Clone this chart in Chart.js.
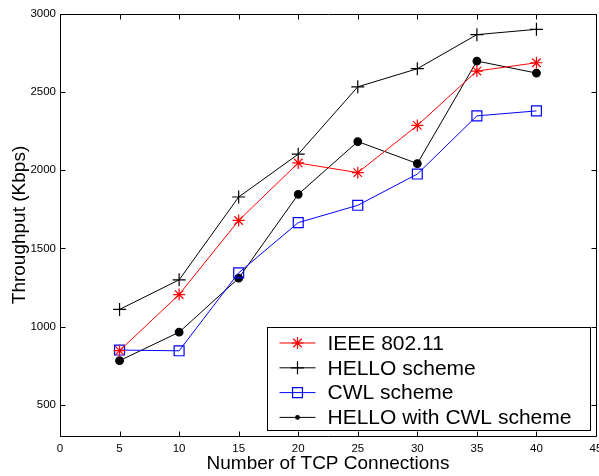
<!DOCTYPE html>
<html>
<head>
<meta charset="utf-8">
<title>Throughput vs TCP connections</title>
<script src="https://cdn.jsdelivr.net/npm/chart.js@4.4.0/dist/chart.umd.min.js"></script>
<style>
    html, body { margin: 0; padding: 0; background: #fff; overflow: hidden; }
    #wrap { width: 599px; height: 476px; overflow: hidden; }
</style>
</head>
<body>
<div id="wrap">
    <canvas id="chart" width="610" height="476"></canvas>
</div>
<script>
// values
const connections = [5, 10, 15, 20, 25, 30, 35, 40];
const ieee80211 = [846, 1205, 1679, 2047, 1985, 2287, 2635, 2688];
const helloScheme = [1110, 1299, 1829, 2103, 2534, 2650, 2868, 2902];
const cwlScheme = [850, 845, 1344, 1665, 1776, 1976, 2348, 2380];
const helloWithCwl = [782, 964, 1310, 1846, 2184, 2043, 2699, 2622];

const xTicks = [0, 5, 10, 15, 20, 25, 30, 35, 40, 45];
const yTicks = [500, 1000, 1500, 2000, 2500, 3000];

const seriesNames = ["IEEE 802.11", "HELLO scheme", "CWL scheme", "HELLO with CWL scheme"];

const toPoints = (values) => values.map((v, i) => ({ x: connections[i], y: v }));

const FONT = "Arial, 'Liberation Sans', Helvetica, sans-serif";

// matlab style box with inward ticks on all four sides
const framePlugin = {
    id: "frame",
    afterDatasetsDraw(chart) {
        const { ctx, chartArea, scales } = chart;
        const l = Math.round(chartArea.left) + 0.5;
        const r = Math.round(chartArea.right) + 0.5;
        const t = Math.round(chartArea.top) + 0.5;
        const b = Math.round(chartArea.bottom) + 0.5;
        const len = 5;
        ctx.save();
        ctx.strokeStyle = "#000";
        ctx.lineWidth = 1;
        ctx.beginPath();
        ctx.rect(l, t, r - l, b - t);
        for (let v of xTicks) {
            const x = Math.round(scales.x.getPixelForValue(v)) + 0.5;
            ctx.moveTo(x, b); ctx.lineTo(x, b - len);
            ctx.moveTo(x, t); ctx.lineTo(x, t + len);
        }
        for (let v of yTicks) {
            const y = Math.round(scales.y.getPixelForValue(v)) + 0.5;
            ctx.moveTo(l, y); ctx.lineTo(l + len, y);
            ctx.moveTo(r, y); ctx.lineTo(r - len, y);
        }
        ctx.stroke();
        ctx.restore();
    }
};

// legend box in the lower right corner of the plot
const legendBoxPlugin = {
    id: "legendBox",
    afterDraw(chart) {
        const { ctx, chartArea } = chart;
        const boxR = Math.round(chartArea.right) - 6 + 0.5;
        const boxB = Math.round(chartArea.bottom) - 6 + 0.5;
        const boxW = 323;
        const boxH = 103;
        const boxL = boxR - boxW;
        const boxT = boxB - boxH;
        ctx.save();
        ctx.fillStyle = "#fff";
        ctx.strokeStyle = "#000";
        ctx.lineWidth = 1;
        ctx.fillRect(boxL, boxT, boxW, boxH);
        ctx.strokeRect(boxL, boxT, boxW, boxH);

        chart.data.datasets.forEach((ds, i) => {
            const y = boxT + 15.5 + i * 24.8;
            const x0 = boxL + 12;
            const x1 = boxL + 48;
            ctx.strokeStyle = ds.borderColor;
            ctx.lineWidth = 1;
            ctx.beginPath();
            ctx.moveTo(x0, y);
            ctx.lineTo(x1, y);
            ctx.stroke();

            ctx.fillStyle = ds.pointBackgroundColor;
            ctx.strokeStyle = ds.pointBorderColor;
            ctx.lineWidth = ds.pointBorderWidth;
            Chart.helpers.drawPoint(ctx, {
                pointStyle: ds.pointStyle,
                radius: ds.legendRadius,
                rotation: 0,
                borderWidth: ds.pointBorderWidth
            }, (x0 + x1) / 2, y);

            ctx.fillStyle = "#000";
            ctx.font = "21px " + FONT;
            ctx.textAlign = "left";
            ctx.textBaseline = "middle";
            ctx.fillText(ds.label, boxL + 60, y + 1);
        });
        ctx.restore();
    }
};

const makeDataset = (label, values, color, style, radius, fill, legendRadius) => ({
    label: label,
    data: toPoints(values),
    borderColor: color,
    borderWidth: 1,
    pointStyle: style,
    pointRadius: radius,
    pointBorderColor: color,
    pointBackgroundColor: fill,
    pointBorderWidth: 1.2,
    legendRadius: legendRadius,
    tension: 0,
    fill: false
});

const ctx = document.getElementById("chart").getContext("2d");
new Chart(ctx, {
    type: "line",
    data: {
        datasets: [
            makeDataset(seriesNames[0], ieee80211, "#ff0000", "star", 6, "#ff0000", 6),
            makeDataset(seriesNames[1], helloScheme, "#000000", "cross", 6.5, "#000000", 6.5),
            makeDataset(seriesNames[2], cwlScheme, "#0000ff", "rect", 7, "rgba(0,0,0,0)", 7),
            makeDataset(seriesNames[3], helloWithCwl, "#000000", "circle", 3.8, "#000000", 1.8)
        ]
    },
    options: {
        responsive: false,
        animation: false,
        layout: { padding: { top: 14, right: 14, left: 0, bottom: 0 } },
        plugins: {
            legend: { display: false },
            tooltip: { enabled: false }
        },
        scales: {
            x: {
                type: "linear",
                min: 0,
                max: 45,
                afterBuildTicks: (scale) => { scale.ticks = xTicks.map((v) => ({ value: v })); },
                afterFit: (scale) => { scale.height = 40; scale.paddingLeft = 0; scale.paddingRight = 0; },
                grid: { display: false, drawTicks: false },
                border: { display: false },
                ticks: {
                    padding: 6,
                    color: "#000",
                    maxRotation: 0,
                    autoSkip: false,
                    callback: (value) => String(value),
                    font: { family: FONT, size: 11.5 }
                },
                title: {
                    display: true,
                    text: "Number of TCP Connections",
                    color: "#000",
                    padding: { top: 0, bottom: 1 },
                    font: { family: FONT, size: 19 }
                }
            },
            y: {
                type: "linear",
                min: 300,
                max: 3000,
                afterBuildTicks: (scale) => { scale.ticks = yTicks.map((v) => ({ value: v })); },
                afterFit: (scale) => { scale.width = 60; },
                grid: { display: false, drawTicks: false },
                border: { display: false },
                ticks: {
                    padding: 4,
                    color: "#000",
                    callback: (value) => String(value),
                    font: { family: FONT, size: 11.5 }
                },
                title: {
                    display: true,
                    text: "Throughput (Kbps)",
                    color: "#000",
                    padding: { top: 8, bottom: 0 },
                    font: { family: FONT, size: 19 }
                }
            }
        }
    },
    plugins: [framePlugin, legendBoxPlugin]
});
</script>
</body>
</html>
